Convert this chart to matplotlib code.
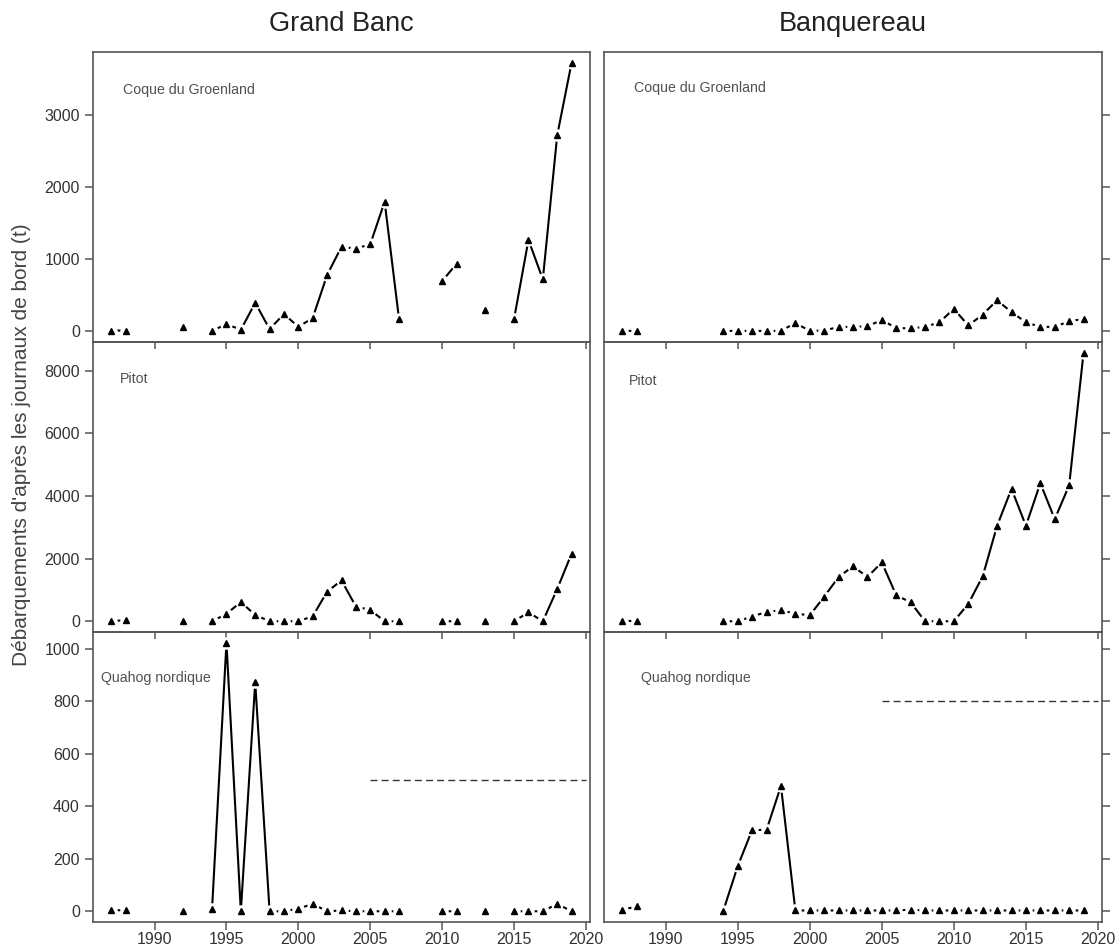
import matplotlib
matplotlib.use("Agg")
import matplotlib.pyplot as plt
import numpy as np

plt.rcParams['font.family'] = ['Liberation Sans', 'DejaVu Sans']

nan = np.nan
annees = np.arange(1987, 2020)

# Grand Banc
gb_coque = [10, 10, nan, nan, nan, 55, nan, 5, 100, 20, 395, 30, 240, 60, 185, 780, 1170, 1145, 1205, 1795, 170,
            nan, nan, 695, 935, nan, 295, nan, 170, 1265, 720, 2715, 3720]
gb_pitot = [0, 40, nan, nan, nan, 0, nan, 0, 235, 615, 200, 0, 0, 0, 160, 945, 1305, 470, 360, 0, 0,
            nan, nan, 0, 0, nan, 0, nan, 0, 285, 0, 1030, 2160]
gb_quahog = [5, 3, nan, nan, nan, 0, nan, 10, 1024, 0, 873, 0, 0, 10, 28, 0, 3, 0, 0, 0, 0,
             nan, nan, 0, 0, nan, 0, nan, 0, 0, 0, 28, 0]

# Banquereau
bq_coque = [5, 5, nan, nan, nan, nan, nan, 5, 5, 5, 5, 5, 115, 5, 10, 60, 60, 70, 155, 45, 40,
            60, 125, 310, 80, 230, 430, 265, 125, 60, 60, 140, 170]
bq_pitot = [20, 0, nan, nan, nan, nan, nan, 0, 0, 150, 300, 350, 245, 190, 785, 1415, 1755, 1415, 1880, 830, 605,
            0, 0, 0, 555, 1435, 3050, 4230, 3050, 4410, 3265, 4340, 8580]
bq_quahog = [5, 19, nan, nan, nan, nan, nan, 2, 172, 310, 310, 478, 3, 3, 3, 3, 3, 3, 3, 3, 6,
             3, 3, 3, 3, 3, 3, 3, 3, 3, 3, 3, 3]

titres = ['Grand Banc', 'Banquereau']
especes = ['Coque du Groenland', 'Pitot', 'Quahog nordique']
series = [[gb_coque, bq_coque], [gb_pitot, bq_pitot], [gb_quahog, bq_quahog]]
yticks = [[0, 1000, 2000, 3000], [0, 2000, 4000, 6000, 8000], [0, 200, 400, 600, 800, 1000]]
# seuil (ligne pointillée) pour le quahog
seuil_annees = [2005, 2020]
seuil = [500, 800]

# positions des étiquettes d'espèces (fraction des axes)
lab_pos = [[(0.06, 0.87), (0.06, 0.876)],
           [(0.055, 0.872), (0.05, 0.864)],
           [(0.016, 0.84), (0.075, 0.84)]]

gris = '#555555'
fig = plt.figure(figsize=(11.15, 9.47), dpi=100)

x0s = [93 / 1115, 604 / 1115]
ws = [497 / 1115, 498 / 1115]
tops = [52, 342, 632]

for r in range(3):
    ymax = np.nanmax(np.array(series[r][0] + series[r][1], dtype=float))
    for c in range(2):
        ax = fig.add_axes([x0s[c], 1 - (tops[r] + 290) / 947, ws[c], 290 / 947])
        ax.patch.set_visible(False)
        y = np.array(series[r][c], dtype=float)
        # style R type="b" : lignes interrompues autour des points
        ax.plot(annees, y, color='black', lw=1.5, zorder=2, solid_capstyle='butt')
        ax.plot(annees, y, ls='none', marker='o', ms=9, mfc='white', mec='none', zorder=3)
        ax.plot(annees, y, ls='none', marker='^', ms=4.8, mfc='black', mec='black', zorder=4)
        if r == 2:
            ax.plot(seuil_annees, [seuil[c], seuil[c]], color='#333333', lw=1.0, ls=(0, (5, 3)), zorder=1)
        ax.set_xlim(1985.72, 2020.28)
        ax.set_ylim(-0.04 * ymax, 1.04 * ymax)
        ax.set_yticks(yticks[r])
        ax.set_xticks(np.arange(1990, 2021, 5))
        for s in ax.spines.values():
            s.set_color(gris)
            s.set_linewidth(1.2)
        ax.tick_params(colors=gris, labelcolor='#333333', labelsize=11.5, length=6, width=1.1)
        ax.tick_params(axis='x', pad=1.5)
        if c == 1:
            ax.yaxis.tick_right()
            ax.tick_params(axis='y', labelright=False)
        if r < 2:
            ax.tick_params(axis='x', labelbottom=False, length=5)
        ax.text(lab_pos[r][c][0], lab_pos[r][c][1], especes[r], transform=ax.transAxes,
                fontsize=10.2, color='#505050', ha='left', va='center')

fig.text(341.5 / 1115, 1 - 24 / 947, titres[0], fontsize=19.5, ha='center', va='center', color='#222222')
fig.text(853 / 1115, 1 - 24 / 947, titres[1], fontsize=19.5, ha='center', va='center', color='#222222')
fig.text(22 / 1115, 1 - 445 / 947, "Débarquements d'après les journaux de bord (t)", fontsize=15,
         rotation=90, ha='center', va='center', color='#444444')

fig.savefig('out.png', dpi=100)
